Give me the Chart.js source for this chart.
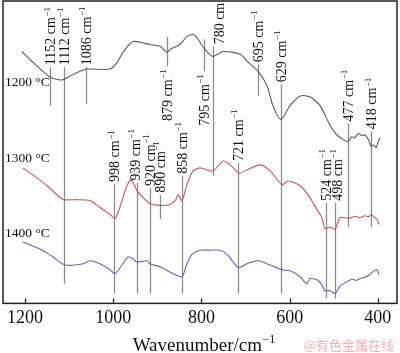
<!DOCTYPE html>
<html>
<head>
<meta charset="utf-8">
<script src="https://cdn.jsdelivr.net/npm/chart.js@4/dist/chart.umd.min.js"></script>
<style>
  html, body { margin: 0; padding: 0; background: #fff; }
</style>
</head>
<body>
<canvas id="ftir" width="400" height="353"></canvas>
<script>
// x axis ticks (wavenumber, cm-1) and series names
const xTicks = [1200, 1000, 800, 600, 400];
const seriesNames = ["1200 °C", "1300 °C", "1400 °C"];

// 1200 °C spectrum (arbitrary transmittance units)
const wn1200 = [1207, 1182, 1143, 1116, 1098, 1075, 1059, 1007, 991, 978,
  955, 917, 894, 878, 871, 849, 833, 819, 810, 803,
  792, 774, 751, 712, 697, 672, 651, 638, 620, 599,
  576, 554, 531, 508, 492, 468, 459, 452, 444, 436,
  429, 421, 415, 410, 404, 399, 395];
const t1200 = [83.3, 79.7, 74.8, 73.9, 75.2, 76.8, 77.5, 77.5, 79.7, 83.0,
  86.6, 85.6, 85.0, 83.0, 84.0, 85.6, 88.2, 88.9, 87.9, 86.3,
  84.0, 81.7, 83.3, 82.4, 80.1, 76.8, 71.9, 65.4, 60.8, 65.4,
  68.6, 68.3, 65.4, 58.8, 55.6, 53.5, 55.1, 54.8, 56.2, 55.5,
  55.7, 54.0, 51.9, 52.4, 51.5, 53.5, 54.8];

// 1300 °C spectrum
const wn1300 = [1205, 1182, 1150, 1125, 1112, 1082, 1053, 1030, 1007, 996,
  985, 973, 962, 955, 946, 932, 917, 894, 871, 858,
  853, 844, 833, 819, 803, 774, 751, 735, 715, 697,
  667, 644, 617, 604, 576, 554, 538, 527, 520, 508,
  497, 486, 474, 463, 452, 440, 429, 421, 414, 406,
  402, 397];
const t1300 = [44.8, 42.5, 38.9, 35.6, 34.3, 34.3, 34.0, 31.7, 29.4, 28.1,
  31.7, 37.3, 40.8, 39.9, 37.3, 35.0, 33.0, 32.4, 32.7, 34.3,
  35.9, 34.0, 39.2, 43.8, 44.8, 43.8, 47.1, 45.8, 43.1, 44.1,
  45.8, 43.8, 39.2, 40.5, 38.9, 35.0, 31.0, 28.4, 24.8, 25.2,
  24.5, 28.4, 28.3, 28.2, 28.8, 28.4, 29.0, 28.7, 29.3, 28.2,
  27.8, 26.1];

// 1400 °C spectrum
const wn1400 = [1205, 1166, 1137, 1109, 1068, 1053, 1030, 1007, 996, 980,
  966, 955, 946, 923, 917, 894, 864, 844, 833, 821,
  803, 780, 758, 742, 728, 715, 697, 672, 644, 617,
  599, 576, 561, 554, 538, 527, 520, 508, 497, 486,
  470, 458, 449, 440, 430, 418, 411, 402, 397];
const t1400 = [20.3, 18.0, 15.4, 12.7, 13.1, 14.1, 13.1, 11.1, 9.8, 12.7,
  15.4, 14.7, 13.7, 14.1, 13.1, 12.1, 9.8, 8.8, 13.1, 16.3,
  17.6, 17.6, 17.6, 16.3, 13.7, 11.8, 13.1, 14.1, 12.7, 11.1,
  10.8, 8.8, 6.5, 8.2, 7.8, 6.2, 4.2, 4.2, 3.3, 5.6,
  7.2, 8.0, 7.6, 8.2, 8.6, 9.5, 10.5, 11.1, 9.5];

// assigned bands: label value and where the marker line sits in the figure
const peakLabels = [1152, 1112, 1086, 998, 939, 920, 890, 879, 858, 795, 780, 721, 695, 629, 524, 498, 477, 418];
const peakAt = [1143, 1112, 1062, 998, 947, 917, 894, 878, 845, 794, 774, 717, 672, 620, 518, 497, 468, 415];

// marker line extents [top, bottom] in y units, labels below the line, label nudges
const markSpan = [[78.1, 65.4], [78.1, 6.5], [78.1, 66.0], [39.5, 3.3], [39.9, 3.3], [38.2, 3.3],
  [35.9, 27.8], [88.2, 78.4], [42.2, 3.3], [87.3, 76.8], [85.0, 42.2], [46.4, 3.3],
  [79.1, 68.6], [72.5, 3.3], [33.3, 1.6], [33.3, 1.6], [59.5, 25.2], [56.9, 25.2]];
const labelBelow = [879, 795];
const labelNudge = { 780: 6, 498: 2, 939: -2 };
const seriesLabelY = [72.9, 48.0, 23.2];

const SERIF = '"Liberation Serif", "Times New Roman", serif';
const colors = ["#5a5a5a", "#c8545a", "#6262b0"];

function pts(xs, ys) {
  return xs.map((x, i) => ({ x: x, y: ys[i] }));
}

// text with a superscript part, drawn from (0,0) along +x
function supText(ctx, main, sup, size) {
  ctx.font = size + "px " + SERIF;
  ctx.fillText(main, 0, 0);
  const w = ctx.measureText(main).width;
  ctx.font = Math.round(size * 0.64) + "px " + SERIF;
  ctx.fillText(sup, w + 0.5, -size * 0.4);
  return w + 0.5 + ctx.measureText(sup).width;
}
function supWidth(ctx, main, sup, size) {
  ctx.font = size + "px " + SERIF;
  const w = ctx.measureText(main).width;
  ctx.font = Math.round(size * 0.64) + "px " + SERIF;
  return w + 0.5 + ctx.measureText(sup).width;
}

const decor = {
  id: "decor",
  beforeDatasetsDraw(chart) {
    const ctx = chart.ctx, xs = chart.scales.x, ys = chart.scales.y;
    ctx.save();
    ctx.strokeStyle = "#8c8c8c";
    ctx.lineWidth = 1.3;
    peakAt.forEach((p, i) => {
      const x = Math.round(xs.getPixelForValue(p)) + 0.5;
      ctx.beginPath();
      ctx.moveTo(x, ys.getPixelForValue(markSpan[i][0]));
      ctx.lineTo(x, ys.getPixelForValue(markSpan[i][1]));
      ctx.stroke();
    });
    ctx.restore();
  },
  afterDraw(chart) {
    const ctx = chart.ctx, xs = chart.scales.x, ys = chart.scales.y;
    const a = chart.chartArea;
    ctx.save();
    ctx.fillStyle = "#111";
    ctx.textBaseline = "alphabetic";
    ctx.textAlign = "left";

    // peak labels, rotated
    peakLabels.forEach((lab, i) => {
      const x = xs.getPixelForValue(peakAt[i]) + (labelNudge[lab] || 0);
      const main = lab + " cm", sup = "\u22121";
      let y;
      if (labelBelow.includes(lab)) {
        y = ys.getPixelForValue(markSpan[i][1]) + 3 + supWidth(ctx, main, sup, 14);
      } else {
        y = ys.getPixelForValue(markSpan[i][0]) - 2;
      }
      ctx.save();
      ctx.translate(x + 5, y);
      ctx.rotate(-Math.PI / 2);
      supText(ctx, main, sup, 14);
      ctx.restore();
    });

    // series names
    ctx.textBaseline = "middle";
    ctx.font = "13.5px " + SERIF;
    seriesNames.forEach((n, i) => {
      ctx.fillText(n, a.left + 2, ys.getPixelForValue(seriesLabelY[i]));
    });

    // frame and inward ticks
    ctx.strokeStyle = "#222";
    ctx.lineWidth = 1.5;
    ctx.strokeRect(a.left, a.top, a.right - a.left, a.bottom - a.top);
    ctx.lineWidth = 1.3;
    xTicks.forEach(t => {
      const x = Math.round(xs.getPixelForValue(t)) + 0.5;
      ctx.beginPath();
      ctx.moveTo(x, a.bottom);
      ctx.lineTo(x, a.bottom - 5);
      ctx.stroke();
    });

    // axis title
    ctx.textBaseline = "alphabetic";
    const tw = supWidth(ctx, "Wavenumber/cm", "\u22121", 19);
    ctx.save();
    ctx.translate((a.left + a.right) / 2 + 4 - tw / 2, 351);
    supText(ctx, "Wavenumber/cm", "\u22121", 19);
    ctx.restore();

    // watermark
    ctx.fillStyle = "rgba(236,150,150,0.75)";
    ctx.font = '13px "Noto Sans CJK SC", sans-serif';
    ctx.textAlign = "right";
    ctx.textBaseline = "middle";
    ctx.fillText("@有色金属在线", 394, 345);
    ctx.restore();
  }
};

new Chart(document.getElementById("ftir").getContext("2d"), {
  type: "line",
  data: {
    datasets: [
      { label: seriesNames[0], data: pts(wn1200, t1200), borderColor: colors[0] },
      { label: seriesNames[1], data: pts(wn1300, t1300), borderColor: colors[1] },
      { label: seriesNames[2], data: pts(wn1400, t1400), borderColor: colors[2] }
    ]
  },
  options: {
    responsive: false,
    animation: false,
    events: [],
    elements: {
      line: { borderWidth: 1.1, tension: 0.25, fill: false },
      point: { radius: 0 }
    },
    layout: { padding: { left: 3, right: 3, top: 1, bottom: 20 } },
    plugins: { legend: { display: false }, tooltip: { enabled: false } },
    scales: {
      x: {
        type: "linear",
        reverse: true,
        min: 356.5,
        max: 1250,
        afterBuildTicks: axis => { axis.ticks = xTicks.map(v => ({ value: v })); },
        grid: { display: false, drawTicks: false },
        border: { display: false },
        ticks: {
          color: "#111", padding: 4, maxRotation: 0,
          font: { family: SERIF, size: 18 },
          callback: v => String(v)
        }
      },
      y: { display: false, min: 0, max: 100 }
    }
  },
  plugins: [decor]
});
</script>
</body>
</html>
